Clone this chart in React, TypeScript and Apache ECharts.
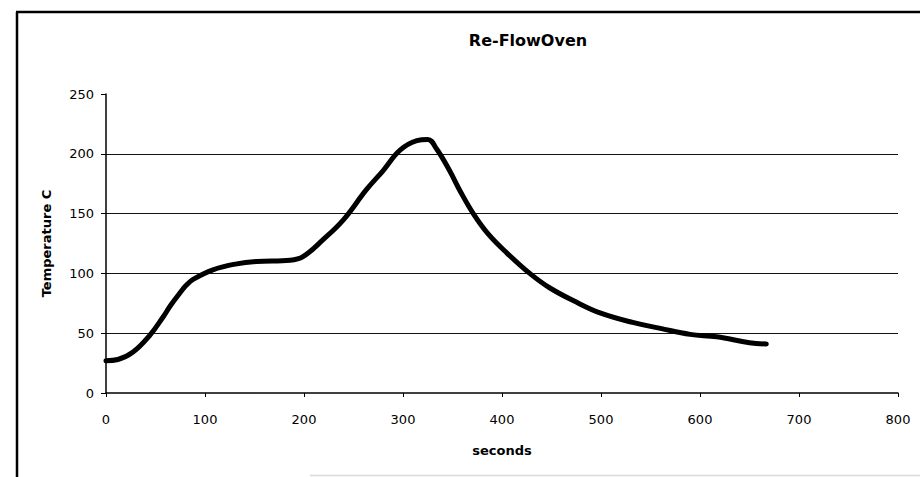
import React, { useEffect, useRef } from "react";
import * as echarts from "echarts";

const seconds = [0, 12, 27, 44, 58, 65, 75, 81, 88, 108, 132, 152, 186, 199, 219, 240, 263, 280, 297, 314, 325, 334, 347, 357, 371, 386, 405, 428, 448, 475, 499, 532, 560, 590, 617, 650, 667];
const temperature = [27, 28, 34, 48, 64, 73, 84, 90, 95, 103, 108, 110, 111, 114, 128, 145, 170, 186, 203, 211, 212, 204, 186, 170, 150, 133, 117, 100, 88, 76, 67, 59, 54, 49, 47, 42, 41];

const titleText = "Re-FlowOven";
const xName = "seconds";
const yName = "Temperature C";

export default function App() {
  const ref = useRef<HTMLDivElement>(null);
  useEffect(() => {
    if (!ref.current) return;
    const chart = echarts.init(ref.current, null, { renderer: "svg" });
    const font = "DejaVu Sans, Arial, sans-serif";
    chart.setOption({
      animation: false,
      backgroundColor: "#ffffff",
      grid: { left: 106, right: 22, top: 94, bottom: 84 },
      xAxis: {
        type: "value",
        min: 0,
        max: 800,
        interval: 100,
        name: xName,
        nameLocation: "middle",
        nameGap: 51,
        nameTextStyle: { fontFamily: font, fontWeight: "bold", fontSize: 13, color: "#000" },
        axisLine: { show: true, lineStyle: { color: "#000", width: 1.5 } },
        axisTick: { show: true, length: 4, lineStyle: { color: "#000" } },
        axisLabel: { margin: 20, fontFamily: font, fontSize: 13, color: "#000" },
        splitLine: { show: false },
      },
      yAxis: {
        type: "value",
        min: 0,
        max: 250,
        interval: 50,
        name: yName,
        nameLocation: "middle",
        nameGap: 53,
        nameTextStyle: { fontFamily: font, fontWeight: "bold", fontSize: 13, color: "#000" },
        axisLine: { show: true, lineStyle: { color: "#000", width: 1.5 } },
        axisTick: { show: true, length: 5, lineStyle: { color: "#000" } },
        axisLabel: { margin: 12, fontFamily: font, fontSize: 13, color: "#000" },
        splitLine: { show: true, showMinLine: false, showMaxLine: false, lineStyle: { color: "#111", width: 1 } },
      },
      graphic: [
        {
          type: "text",
          x: 528,
          y: 40,
          style: { text: titleText, align: "center", verticalAlign: "middle", font: `bold 16px ${font}`, fill: "#000" },
        },
        { type: "line", shape: { x1: 16, y1: 12, x2: 920, y2: 12 }, style: { stroke: "#000", lineWidth: 2.5 } },
        { type: "line", shape: { x1: 17, y1: 12, x2: 17, y2: 477 }, style: { stroke: "#000", lineWidth: 2.5 } },
        { type: "line", shape: { x1: 310, y1: 475.5, x2: 920, y2: 475.5 }, style: { stroke: "#d8d8d8", lineWidth: 1.5 } },
      ],
      series: [
        {
          type: "line",
          data: seconds.map((s, i) => [s, temperature[i]]),
          smooth: 0.4,
          symbol: "none",
          lineStyle: { color: "#000", width: 5, cap: "round", join: "round" },
        },
      ],
    });
    return () => chart.dispose();
  }, []);
  return <div ref={ref} style={{ position: "fixed", left: 0, top: 0, width: 920, height: 477 }} />;
}
